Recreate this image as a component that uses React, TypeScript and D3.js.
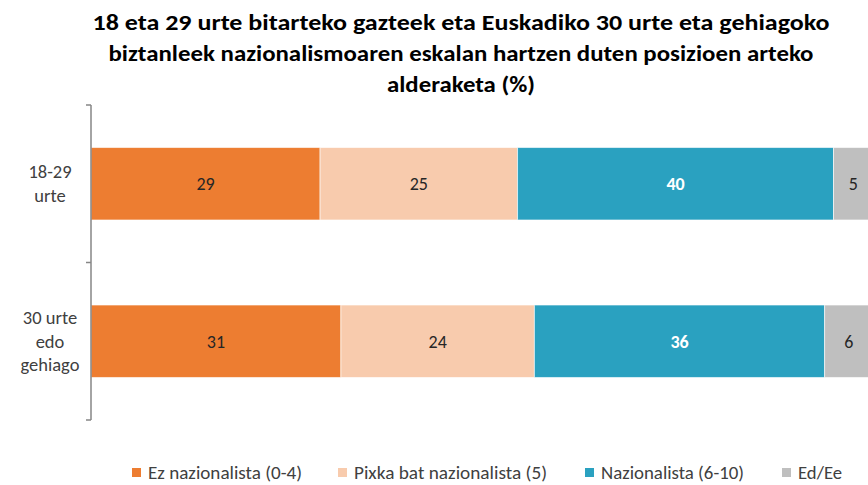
import React, { useMemo } from "react";
import * as d3 from "d3";

const W = 868;
const H = 485;

const categories = ["18-29\nurte", "30 urte\nedo\ngehiago"];
const seriesNames = ["Ez nazionalista (0-4)", "Pixka bat nazionalista (5)", "Nazionalista (6-10)", "Ed/Ee"];
const ezNazionalista = [29, 31];
const pixkaBat = [25, 24];
const nazionalista = [40, 36];
const edEe = [5, 6];
const titleLines = [
  "18 eta 29 urte bitarteko gazteek eta Euskadiko 30 urte eta gehiagoko",
  "biztanleek nazionalismoaren eskalan hartzen duten posizioen arteko",
  "alderaketa (%)",
];

const colors = ["#ED7D31", "#F8CBAD", "#2AA1C0", "#BFBFBF"];
const labelColors = ["#262626", "#262626", "#FFFFFF", "#262626"];
const FONT = "Carlito, Calibri, Lato, 'Open Sans', sans-serif";

// rough widths measured on the reference
const titleWidths = [737, 705, 148];
const legendX = [132, 338, 585, 782];
const legendWidths = [154, 193, 143, 44];

const App = () => {
  const series = [ezNazionalista, pixkaBat, nazionalista, edEe];

  const x = d3.scaleLinear().domain([0, 100]).range([91, 873]);
  const y = d3
    .scaleBand()
    .domain(categories)
    .range([105, 420])
    .paddingInner(0.54)
    .paddingOuter(0.27);

  const stacked = useMemo(() => {
    const rows = categories.map((c, i) => {
      const total = d3.sum(series, (s) => s[i]);
      const row: any = { cat: c };
      series.forEach((s, k) => (row["s" + k] = (s[i] / total) * 100));
      return row;
    });
    return d3.stack().keys(series.map((_, k) => "s" + k))(rows);
  }, []);

  const tickYs = [105, 262.5, 420];

  return (
    <svg width={W} height={H} style={{ position: "absolute", left: 0, top: 0 }} fontFamily={FONT}>
      <rect width={W} height={H} fill="#fff" />
      {titleLines.map((t, i) => (
        <text
          key={i}
          x={461}
          y={30 + i * 31}
          textAnchor="middle"
          fontSize={22}
          fontWeight="bold"
          fill="#000"
          textLength={titleWidths[i]}
          lengthAdjust="spacingAndGlyphs"
        >
          {t}
        </text>
      ))}

      {stacked.map((layer, k) => (
        <g key={k}>
          {layer.map((d, i) => {
            const x0 = x(d[0]);
            const x1 = x(d[1]);
            const by = y(categories[i])!;
            return (
              <g key={i}>
                <rect
                  x={x0}
                  y={by}
                  width={x1 - x0}
                  height={y.bandwidth()}
                  fill={colors[k]}
                  stroke="#fff"
                  strokeOpacity={0.6}
                  strokeWidth={1}
                />
                <text
                  x={(x0 + x1) / 2}
                  y={by + y.bandwidth() / 2}
                  dy="0.35em"
                  textAnchor="middle"
                  fontSize={18}
                  fontWeight={k === 2 ? "bold" : "normal"}
                  fill={labelColors[k]}
                >
                  {series[k][i]}
                </text>
              </g>
            );
          })}
        </g>
      ))}

      {/* category axis */}
      <line x1={91} x2={91} y1={105} y2={420} stroke="#868686" strokeWidth={1.5} />
      {tickYs.map((ty, i) => (
        <line key={i} x1={86} x2={91} y1={ty} y2={ty} stroke="#868686" strokeWidth={1.5} />
      ))}
      {categories.map((c, i) => {
        const lines = c.split("\n");
        const cy = y(c)! + y.bandwidth() / 2;
        return (
          <text key={i} textAnchor="middle" fontSize={18.5} fill="#404040">
            {lines.map((l, j) => (
              <tspan key={j} x={50} y={cy + (j - (lines.length - 1) / 2) * 23.5} dy="0.35em">
                {l}
              </tspan>
            ))}
          </text>
        );
      })}

      {/* legend */}
      {seriesNames.map((n, k) => (
        <g key={k} transform={`translate(${legendX[k]}, 468)`}>
          <rect width={9} height={9} fill={colors[k]} />
          <text
            x={16}
            y={4.5}
            dy="0.35em"
            fontSize={18}
            fill="#404040"
            textLength={legendWidths[k]}
            lengthAdjust="spacingAndGlyphs"
          >
            {n}
          </text>
        </g>
      ))}
    </svg>
  );
};

export default App;
